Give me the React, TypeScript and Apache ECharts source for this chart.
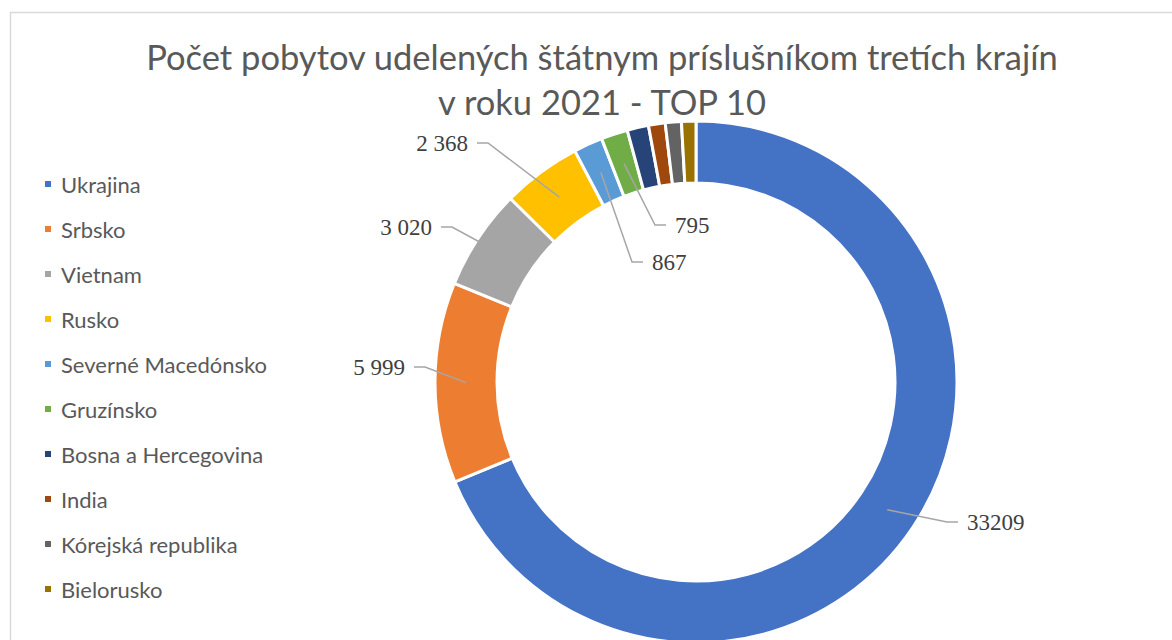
import React, { useEffect, useRef } from "react";
import * as echarts from "echarts";

const categories = [
  "Ukrajina",
  "Srbsko",
  "Vietnam",
  "Rusko",
  "Severné Macedónsko",
  "Gruzínsko",
  "Bosna a Hercegovina",
  "India",
  "Kórejská republika",
  "Bielorusko",
];
const values = [33209, 5999, 3020, 2368, 867, 795, 640, 500, 480, 430];
const labelTexts = ["33209", "5 999", "3 020", "2 368", "867", "795", "", "", "", ""];
const colors = [
  "#4472C4",
  "#ED7D31",
  "#A5A5A5",
  "#FFC000",
  "#5B9BD5",
  "#70AD47",
  "#264478",
  "#9E480E",
  "#636363",
  "#997300",
];
const titleLines = ["Počet pobytov udelených štátnym príslušníkom tretích krajín", "v roku 2021 - TOP 10"];

// layout constants
const CENTER = [696, 382];
const R_IN = 199;
const R_OUT = 261;

// label placement (pixel anchors for the data labels)
const labelPos: Record<number, { x: number; y: number; align: string }> = {
  0: { x: 967, y: 522, align: "left" },
  1: { x: 405, y: 367, align: "right" },
  2: { x: 432, y: 227, align: "right" },
  3: { x: 468, y: 143, align: "right" },
  4: { x: 652, y: 262, align: "left" },
  5: { x: 675, y: 225, align: "left" },
};

function midPoint(i: number, r: number) {
  const total = values.reduce((a, b) => a + b, 0);
  let cum = 0;
  for (let k = 0; k < i; k++) cum += values[k];
  const theta = (2 * Math.PI * (cum + values[i] / 2)) / total;
  return [CENTER[0] + r * Math.sin(theta), CENTER[1] - r * Math.cos(theta)];
}

export default function App() {
  const ref = useRef<HTMLDivElement>(null);
  useEffect(() => {
    if (!ref.current) return;
    const chart = echarts.init(ref.current, undefined, { renderer: "svg" });
    chart.setOption({
      animation: false,
      color: colors,
      title: {
        text: titleLines.join("\n"),
        left: 597,
        top: 29,
        textAlign: "center",
        textStyle: {
          fontFamily: "Lato",
          fontSize: 34.5,
          fontWeight: "normal",
          color: "#595959",
          lineHeight: 45,
        },
      },
      legend: {
        orient: "vertical",
        left: 38,
        top: 168,
        icon: "rect",
        itemWidth: 8,
        itemHeight: 8,
        itemGap: 23,
        textStyle: {
          fontFamily: "Lato",
          fontSize: 22,
          color: "#595959",
          lineHeight: 22,
          padding: [0, 0, 0, 4],
        },
        data: categories,
      },
      graphic: [
        {
          type: "rect",
          shape: { x: 10.5, y: 12.5, width: 1300, height: 800 },
          style: { fill: "none", stroke: "#d9d9d9", lineWidth: 1.5 },
          silent: true,
        },
      ],
      series: [
        {
          type: "pie",
          name: "rings",
          z: 2,
          center: CENTER,
          radius: [R_IN, R_OUT],
          startAngle: 90,
          clockwise: true,
          itemStyle: { borderColor: "#ffffff", borderWidth: 3 },
          label: { show: false },
          labelLine: { show: false },
          data: categories.map((name, i) => ({ name, value: values[i] })),
        },
        {
          type: "pie",
          name: "labels",
          z: 5,
          silent: true,
          center: CENTER,
          radius: [R_IN, R_OUT],
          startAngle: 90,
          clockwise: true,
          avoidLabelOverlap: false,
          itemStyle: { color: "rgba(0,0,0,0)", borderWidth: 0 },
          label: {
            show: true,
            position: "outside",
            fontFamily: "Liberation Serif",
            fontSize: 23,
            color: "#404040",
            formatter: (p: any) => labelTexts[p.dataIndex],
          },
          labelLine: {
            show: true,
            length: 10,
            length2: 10,
            lineStyle: { color: "#a6a6a6", width: 1.5 },
          },
          labelLayout: (p: any) => {
            const i = p.dataIndex;
            const pos = labelPos[i];
            if (!pos) return {};
            const dir = pos.align === "left" ? -1 : 1;
            const start = midPoint(i, (R_IN + R_OUT) / 2);
            return {
              x: pos.x,
              y: pos.y,
              align: pos.align,
              verticalAlign: "middle",
              labelLinePoints: [start, [pos.x + dir * 20, pos.y], [pos.x + dir * 9, pos.y]],
            };
          },
          data: categories.map((name, i) => ({
            name,
            value: values[i],
            label: { show: labelTexts[i] !== "" },
            labelLine: { show: labelTexts[i] !== "" },
          })),
        },
      ],
    });
    return () => chart.dispose();
  }, []);
  return (
    <div
      ref={ref}
      style={{ position: "absolute", left: 0, top: 0, width: 1172, height: 640, background: "#fff" }}
    />
  );
}
